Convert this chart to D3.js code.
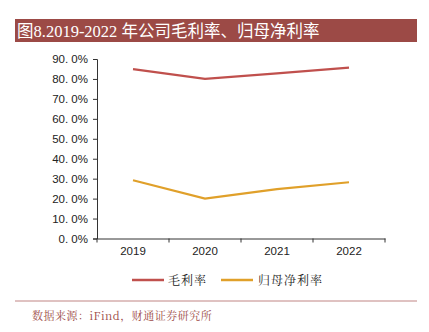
<!DOCTYPE html>
<html><head><meta charset="utf-8">
<script src="https://cdn.jsdelivr.net/npm/d3@7"></script>
<style>body{margin:0;background:#fff}svg{display:block}</style>
</head><body>
<svg id="c" width="429" height="332"></svg>
<script>
const categories = ["2019","2020","2021","2022"];
const grossMargin = [84.9, 80.0, 82.8, 85.7];
const netMargin = [29.2, 20.0, 24.8, 28.2];
const seriesNames = ["毛利率","归母净利率"];
const yTicks = [0,10,20,30,40,50,60,70,80,90];
const colors = ["#C0504D","#E0A02A"];

const svg = d3.select("#c");
const serif = "'Noto Serif CJK SC','Liberation Serif','Noto Sans CJK SC',serif";

// title bar
svg.append("rect").attr("x",15).attr("y",19).attr("width",402).attr("height",23).attr("fill","#9C4A46");
svg.append("text").attr("x",17).attr("y",36.5).attr("fill","#fff")
  .style("font-family","'Liberation Serif','Noto Sans CJK SC',serif").style("font-size","16.5px")
  .text("图8.2019-2022 年公司毛利率、归母净利率");

const x = d3.scaleBand().domain(categories).range([97,385]);
const y = d3.scaleLinear().domain([0,90]).range([238.5,59]);

const yAxis = svg.append("g").attr("transform","translate(97,0)")
  .call(d3.axisLeft(y).tickValues(yTicks).tickSize(4).tickPadding(5)
    .tickFormat(d=>d3.format(".1f")(d).replace(".",". ")+"%"));
yAxis.select(".domain").attr("stroke","#333");
yAxis.selectAll("line").attr("stroke","#333");
yAxis.selectAll("text").style("font-family","'Liberation Sans',Arial,sans-serif").style("font-size","11.5px").attr("fill","#222");

const xAxis = svg.append("g").attr("transform","translate(0,238.5)")
  .call(d3.axisBottom(x).tickSize(0).tickPadding(8));
xAxis.select(".domain").attr("stroke","#333");
xAxis.selectAll("text").style("font-family","'Liberation Sans',Arial,sans-serif").style("font-size","11.5px").attr("fill","#222");
// boundary ticks
const bounds = [97].concat(categories.map(c=>x(c)+x.bandwidth()));
svg.append("g").selectAll("line").data(bounds).join("line")
  .attr("x1",d=>d).attr("x2",d=>d).attr("y1",238.5).attr("y2",242.5).attr("stroke","#333");

const line = d3.line().x((d,i)=>x(categories[i])+x.bandwidth()/2).y(d=>y(d));
[grossMargin, netMargin].forEach((s,i)=>{
  svg.append("path").datum(s).attr("d",line).attr("fill","none")
    .attr("stroke",colors[i]).attr("stroke-width",2.2);
});

// legend
const leg = [{x:132,tx:168},{x:221,tx:258}];
seriesNames.forEach((n,i)=>{
  svg.append("line").attr("x1",leg[i].x).attr("x2",leg[i].x+32).attr("y1",280).attr("y2",280)
    .attr("stroke",colors[i]).attr("stroke-width",2.5);
  svg.append("text").attr("x",leg[i].tx).attr("y",284.5).attr("fill","#222")
    .style("font-family",serif).style("font-size","12px").style("letter-spacing","1px").text(n);
});

// footer
svg.append("line").attr("x1",15).attr("x2",417).attr("y1",301).attr("y2",301).attr("stroke","#C08584").attr("stroke-width",1);
svg.append("text").attr("x",32).attr("y",320).attr("fill","#9C4A46")
  .style("font-family",serif).style("font-size","11px").style("letter-spacing","0.5px")
  .text("数据来源：iFind，财通证券研究所");
</script>
</body></html>
